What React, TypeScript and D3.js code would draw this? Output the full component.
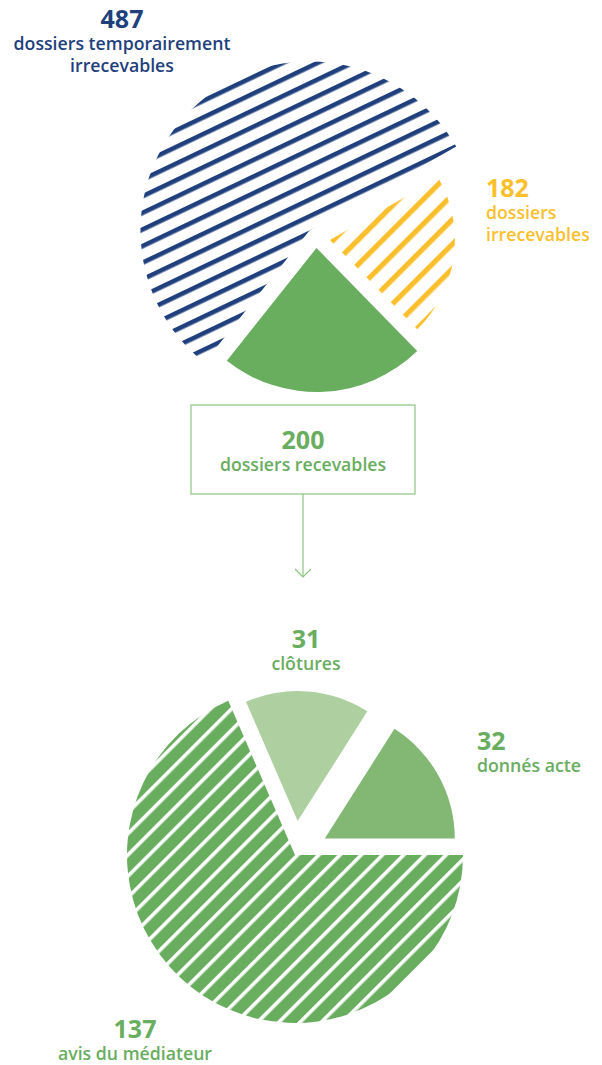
import React from "react";
import * as d3 from "d3";

// ---- data ----
const topCategories = ["dossiers temporairement irrecevables", "dossiers irrecevables", "dossiers recevables"];
const topLabelLines = [["dossiers temporairement", "irrecevables"], ["dossiers", "irrecevables"], ["dossiers recevables"]];
const topValues = [487, 182, 200];

const bottomCategories = ["avis du médiateur", "clôtures", "donnés acte"];
const bottomLabelLines = [["avis du médiateur"], ["clôtures"], ["donnés acte"]];
const bottomValues = [137, 31, 32];

// ---- styles / layout ----
const BLUE = "#1f3f7d";
const YELLOW = "#fbbf2e";
const GREEN = "#69ad5f";
const LIGHT_GREEN = "#aed0a0";
const MID_GREEN = "#82b874";
const BOX_GREEN = "#8cc481";
const FONT = "'Open Sans', sans-serif";

type PieStyle = {
  cx: number; cy: number; startDeg: number;
  radii: number[]; explode: number[]; fills: string[];
};

const topStyle: PieStyle = {
  cx: 316, cy: 238, startDeg: 218.5,
  radii: [169, 125, 144], explode: [10, 14, 10],
  fills: ["url(#blueStripes)", "url(#yellowStripes)", GREEN],
};
const bottomStyle: PieStyle = {
  cx: 295, cy: 855, startDeg: 90,
  radii: [168, 130, 130], explode: [0, 34, 34],
  fills: ["url(#greenStripes)", LIGHT_GREEN, MID_GREEN],
};

type LabelPos = { x: number; y: number; anchor: "start" | "middle"; color: string };
const topLabelPos: LabelPos[] = [
  { x: 122, y: 28, anchor: "middle", color: BLUE },
  { x: 486, y: 197, anchor: "start", color: YELLOW },
  { x: 303, y: 449, anchor: "middle", color: GREEN },
];
const bottomLabelPos: LabelPos[] = [
  { x: 135, y: 1038, anchor: "middle", color: GREEN },
  { x: 306, y: 648, anchor: "middle", color: GREEN },
  { x: 477, y: 750, anchor: "start", color: GREEN },
];

function Pie({ values, categories, style }: { values: number[]; categories: string[]; style: PieStyle }) {
  const a0 = (style.startDeg * Math.PI) / 180;
  const arcs = d3.pie<number>().sort(null).startAngle(a0).endAngle(a0 + 2 * Math.PI)(values);
  return (
    <g>
      {arcs.map((a, i) => {
        const mid = (a.startAngle + a.endAngle) / 2;
        const dx = Math.sin(mid) * style.explode[i];
        const dy = -Math.cos(mid) * style.explode[i];
        const path = d3.arc<d3.PieArcDatum<number>>().innerRadius(0).outerRadius(style.radii[i])(a) || "";
        return (
          <path
            key={categories[i]}
            d={path}
            transform={`translate(${style.cx + dx},${style.cy + dy})`}
            fill={style.fills[i]}
          />
        );
      })}
    </g>
  );
}

function Label({ value, lines, pos }: { value: number; lines: string[]; pos: LabelPos }) {
  return (
    <g fill={pos.color} fontFamily={FONT} textAnchor={pos.anchor}>
      <text x={pos.x} y={pos.y} fontSize={25} fontWeight={700}>{value}</text>
      {lines.map((l, i) => (
        <text key={i} x={pos.x} y={pos.y + 22 + i * 22} fontSize={17.7} fontWeight={600}>{l}</text>
      ))}
    </g>
  );
}

export default function App() {
  return (
    <svg width={602} height={1065} style={{ position: "absolute", left: 0, top: 0, background: "#fff" }}>
      <defs>
        <pattern id="blueStripes" patternUnits="userSpaceOnUse" width={20} height={15} patternTransform="rotate(-25.5)">
          <rect x={0} y={0} width={20} height={4.6} fill={BLUE} />
        </pattern>
        <pattern id="yellowStripes" patternUnits="userSpaceOnUse" width={20} height={17.4} patternTransform="rotate(-45)">
          <rect x={0} y={0} width={20} height={5.2} fill={YELLOW} />
        </pattern>
        <pattern id="greenStripes" patternUnits="userSpaceOnUse" width={20} height={15} patternTransform="rotate(-45)">
          <rect x={0} y={0} width={20} height={15} fill={GREEN} />
          <rect x={0} y={0} width={20} height={3.6} fill="#fff" />
        </pattern>
      </defs>

      <Pie values={topValues} categories={topCategories} style={topStyle} />
      <Pie values={bottomValues} categories={bottomCategories} style={bottomStyle} />

      {/* box + arrow */}
      <rect x={191} y={405} width={224} height={89} fill="none" stroke={BOX_GREEN} strokeWidth={1.2} />
      <line x1={303} y1={494} x2={303} y2={577} stroke={BOX_GREEN} strokeWidth={1.2} />
      <polyline points="295,569 303,577 311,569" fill="none" stroke={BOX_GREEN} strokeWidth={1.2} />

      {topValues.map((v, i) => (
        <Label key={topCategories[i]} value={v} lines={topLabelLines[i]} pos={topLabelPos[i]} />
      ))}
      {bottomValues.map((v, i) => (
        <Label key={bottomCategories[i]} value={v} lines={bottomLabelLines[i]} pos={bottomLabelPos[i]} />
      ))}
    </svg>
  );
}
